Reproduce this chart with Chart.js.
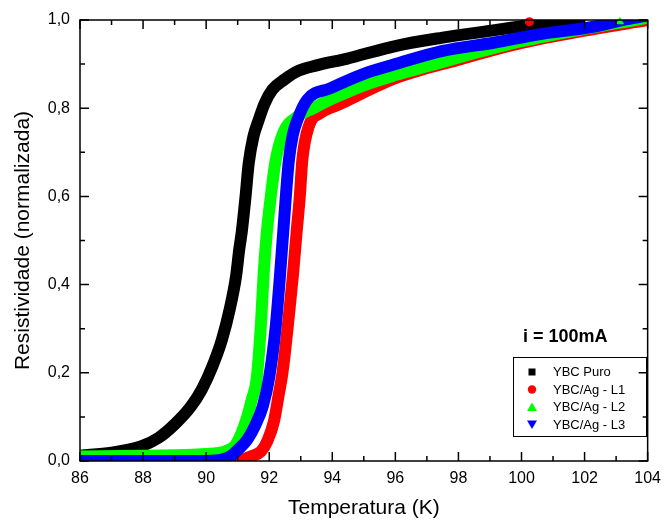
<!DOCTYPE html>
<html>
<head>
<meta charset="utf-8">
<script src="https://cdn.jsdelivr.net/npm/chart.js@4.4.1/dist/chart.umd.min.js"></script>
<style>
  body { margin: 0; background: #fff; }
  #box { width: 669px; height: 522px; }
</style>
</head>
<body>
<div id="box"><canvas id="myChart" width="669" height="522"></canvas></div>
<script>
const seriesNames = ['YBC Puro', 'YBC/Ag - L1', 'YBC/Ag - L2', 'YBC/Ag - L3'];

// temperatura (K) / resistividade normalizada
const tPuro = [86, 87, 87.5, 88, 88.5, 89, 89.5, 89.86, 90.2, 90.5, 90.75, 90.95, 91.05, 91.13, 91.25, 91.35, 91.5, 91.65, 91.85, 92.1, 92.5, 92.9, 93.5, 94.45, 96, 97.5, 99.15, 100.7, 102];
const rPuro = [0.012, 0.019, 0.025, 0.035, 0.053, 0.083, 0.122, 0.162, 0.215, 0.275, 0.345, 0.42, 0.48, 0.52, 0.6, 0.675, 0.736, 0.77, 0.81, 0.842, 0.866, 0.884, 0.897, 0.912, 0.941, 0.96, 0.977, 0.993, 1.005];

const tL1 = [86, 90.5, 90.9, 91.2, 91.4, 91.74, 91.94, 92.15, 92.3, 92.42, 92.6, 92.75, 92.87, 92.97, 93.05, 93.25, 93.62, 94.2, 96, 98, 100, 102, 104];
const rL1 = [0, 0, 0.002, 0.004, 0.01, 0.022, 0.045, 0.09, 0.15, 0.2, 0.313, 0.42, 0.52, 0.6, 0.683, 0.758, 0.789, 0.808, 0.868, 0.91, 0.948, 0.976, 1.0];

const tL2 = [86, 88, 90, 90.6, 90.9, 91.1, 91.3, 91.45, 91.6, 91.74, 91.82, 91.92, 92.05, 92.2, 92.45, 92.9, 93.4, 93.72, 94.2, 95, 96, 97, 98, 99.15, 100, 102, 103.6, 104];
const rL2 = [0.01, 0.012, 0.016, 0.022, 0.034, 0.06, 0.1, 0.14, 0.185, 0.313, 0.42, 0.515, 0.6, 0.68, 0.745, 0.781, 0.8, 0.812, 0.828, 0.852, 0.875, 0.895, 0.915, 0.937, 0.952, 0.98, 1.0, 1.005];

const tL3 = [86, 90, 90.5, 90.8, 91.0, 91.3, 91.55, 91.8, 92.0, 92.2, 92.33, 92.44, 92.62, 92.75, 92.89, 93.2, 93.93, 95, 96, 97.5, 99.15, 100.5, 102.3, 103.2, 104];
const rL3 = [0, 0, 0.003, 0.012, 0.025, 0.048, 0.08, 0.125, 0.19, 0.3, 0.41, 0.515, 0.68, 0.74, 0.773, 0.819, 0.845, 0.878, 0.9, 0.93, 0.949, 0.967, 0.985, 1.0, 1.01];

// pontos soltos no topo
const tL1Extra = [100.25];
const rL1Extra = [0.996];
const tL2Extra = [103.12];
const rL2Extra = [0.996];

const xTickValues = [86, 88, 90, 92, 94, 96, 98, 100, 102, 104];
const yTickLabels = ['0,0', '0,2', '0,4', '0,6', '0,8', '1,0'];
const noteText = 'i = 100mA';

const colors = ['#000000', '#ff0000', '#00ff00', '#0000ff'];
const fontFamily = "Arial, 'Liberation Sans', sans-serif";

const toPoints = (xs, ys) => xs.map((x, i) => ({ x: x, y: ys[i] }));

const curve = (idx, xs, ys) => ({
    label: seriesNames[idx],
    data: toPoints(xs, ys),
    borderColor: colors[idx],
    backgroundColor: colors[idx],
    borderWidth: 12,
    pointRadius: 0,
    fill: false,
    cubicInterpolationMode: 'monotone',
    borderJoinStyle: 'round',
    order: 4 - idx
});

const extra = (idx, xs, ys, style, r) => ({
    label: seriesNames[idx] + ' extra',
    data: toPoints(xs, ys),
    showLine: false,
    pointStyle: style,
    pointRadius: r,
    pointBorderWidth: 0,
    backgroundColor: colors[idx],
    borderColor: colors[idx],
    clip: false,
    order: 0
});

// moldura, ticks internos, legenda e anotação
const framePlugin = {
    id: 'frame',
    afterDatasetsDraw(chart) {
        const c = chart.ctx;
        const a = chart.chartArea;
        const xs = chart.scales.x;
        const ys = chart.scales.y;
        c.save();
        c.strokeStyle = '#000';
        c.lineWidth = 1.5;
        c.strokeRect(a.left, a.top, a.right - a.left, a.bottom - a.top);

        const xMajor = xs.ticks.map(t => t.value);
        const yMajor = ys.ticks.map(t => t.value);
        const mids = arr => arr.slice(1).map((v, i) => (v + arr[i]) / 2);

        const tickX = (v, len) => {
            const px = xs.getPixelForValue(v);
            c.beginPath();
            c.moveTo(px, a.bottom); c.lineTo(px, a.bottom - len);
            c.moveTo(px, a.top); c.lineTo(px, a.top + len);
            c.stroke();
        };
        const tickY = (v, len) => {
            const py = ys.getPixelForValue(v);
            c.beginPath();
            c.moveTo(a.left, py); c.lineTo(a.left + len, py);
            c.moveTo(a.right, py); c.lineTo(a.right - len, py);
            c.stroke();
        };
        xMajor.forEach(v => tickX(v, 9));
        mids(xMajor).forEach(v => tickX(v, 5));
        yMajor.forEach(v => tickY(v, 9));
        mids(yMajor).forEach(v => tickY(v, 5));

        // anotação
        c.fillStyle = '#000';
        c.font = 'bold 18px ' + fontFamily;
        c.textBaseline = 'middle';
        c.textAlign = 'left';
        c.fillText(noteText, 523, 337);

        // legenda
        c.lineWidth = 1;
        c.strokeRect(513.5, 357.5, 133, 79);
        c.font = '13px ' + fontFamily;
        const mx = 532;
        seriesNames.forEach((name, i) => {
            const my = 372 + i * 17.5;
            c.fillStyle = colors[i];
            c.beginPath();
            if (i === 0) {
                c.rect(mx - 3.5, my - 3.5, 7, 7);
            } else if (i === 1) {
                c.arc(mx, my, 4.2, 0, Math.PI * 2);
            } else if (i === 2) {
                c.moveTo(mx, my - 4.5); c.lineTo(mx + 5, my + 4); c.lineTo(mx - 5, my + 4); c.closePath();
            } else {
                c.moveTo(mx, my + 4.5); c.lineTo(mx + 5, my - 4); c.lineTo(mx - 5, my - 4); c.closePath();
            }
            c.fill();
            c.fillStyle = '#000';
            c.fillText(name, 553, my + 0.5);
        });
        c.restore();
    }
};

const ctx = document.getElementById('myChart');

new Chart(ctx, {
    type: 'line',
    data: {
        datasets: [
            curve(0, tPuro, rPuro),
            curve(1, tL1, rL1),
            curve(2, tL2, rL2),
            curve(3, tL3, rL3),
            extra(1, tL1Extra, rL1Extra, 'circle', 4.5),
            extra(2, tL2Extra, rL2Extra, 'triangle', 5)
        ]
    },
    options: {
        responsive: false,
        animation: false,
        layout: { padding: { top: 20, right: 15, left: 0, bottom: 0 } },
        plugins: {
            legend: { display: false },
            tooltip: { enabled: false }
        },
        scales: {
            x: {
                type: 'linear',
                min: 86,
                max: 104,
                afterFit: s => { s.height = 61; },
                afterBuildTicks: s => { s.ticks = xTickValues.map(v => ({ value: v })); },
                grid: { display: false, drawTicks: false },
                border: { display: false },
                ticks: {
                    padding: 8,
                    color: '#000',
                    maxRotation: 0,
                    font: { family: fontFamily, size: 16 },
                    callback: v => String(v)
                },
                title: {
                    display: true,
                    text: 'Temperatura (K)',
                    color: '#000',
                    font: { family: fontFamily, size: 21 },
                    padding: { top: 0, bottom: 1 }
                }
            },
            y: {
                type: 'linear',
                min: 0,
                max: 1,
                afterFit: s => { s.width = 80; },
                grid: { display: false, drawTicks: false },
                border: { display: false },
                ticks: {
                    stepSize: 0.2,
                    padding: 10,
                    color: '#000',
                    font: { family: fontFamily, size: 16 },
                    callback: (v, i) => yTickLabels[Math.round(v / 0.2)]
                },
                title: {
                    display: true,
                    text: 'Resistividade (normalizada)',
                    color: '#000',
                    font: { family: fontFamily, size: 21 },
                    padding: { top: 11, bottom: 0 }
                }
            }
        }
    },
    plugins: [framePlugin]
});
</script>
</body>
</html>
